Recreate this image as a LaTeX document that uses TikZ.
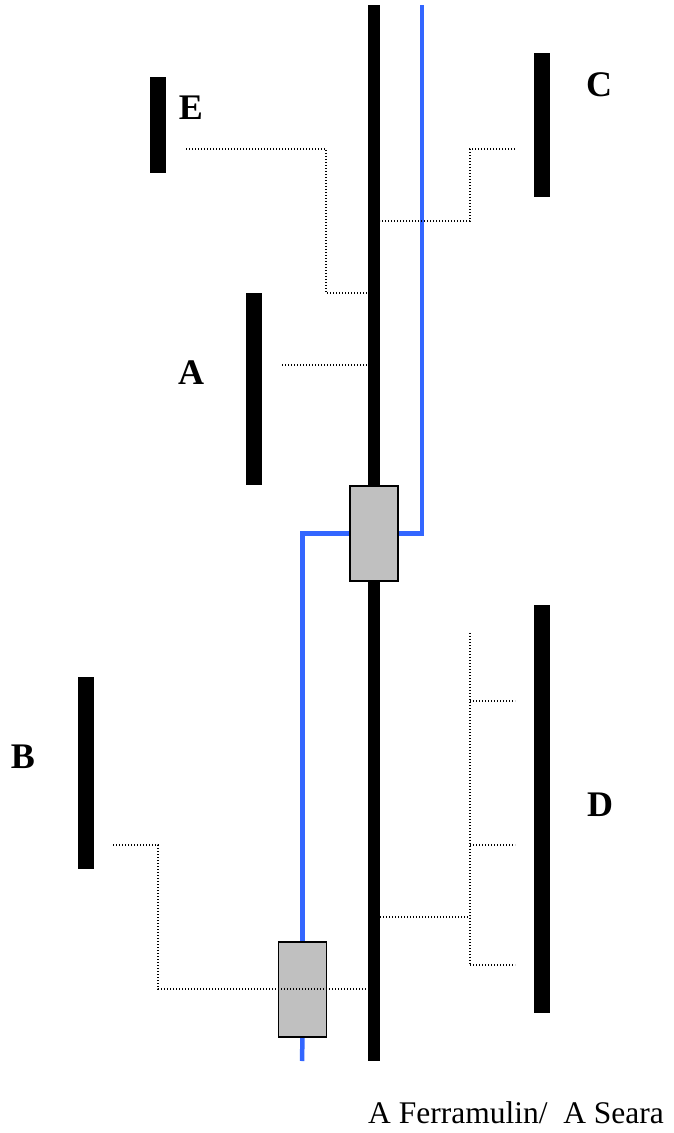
\documentclass[tikz,border=0pt]{standalone}
\usepackage{fontspec}
\setmainfont{Liberation Serif}
\usetikzlibrary{positioning}
\definecolor{chainblue}{HTML}{3366FF}
\definecolor{boxgray}{HTML}{C0C0C0}

\begin{document}
\begin{tikzpicture}[x=1pt,y=-1pt,
  bar/.style={fill=black,draw=none,minimum width=16pt,inner sep=0pt,outer sep=0pt},
  gbox/.style={fill=boxgray,draw=black,line width=1.8pt,minimum width=48pt,minimum height=95pt,inner sep=0pt,outer sep=0pt},
  link/.style={line width=1.4pt,dash pattern=on 1.4pt off 1.6pt},
  blueline/.style={chainblue,line width=4.5pt},
  lbl/.style={font=\fontsize{36}{40}\selectfont\bfseries,inner sep=0pt}]
  \useasboundingbox (0,0) rectangle (674,1133);

  % main strand and side bars
  \node[bar,minimum width=12pt,minimum height=1056pt] (main) at (374,533) {};
  \node[bar,minimum height=96pt] (barE) at (158,125) {};
  \node[bar,minimum height=144pt] (barC) at (542,125) {};
  \node[bar,minimum height=192pt] (barA) at (254,389) {};
  \node[bar,minimum height=192pt] (barB) at (86,773) {};
  \node[bar,minimum height=408pt] (barD) at (542,809) {};

  % blue chain
  \coordinate (bluetop) at (422,5);
  \coordinate (bluebot) at (302,1061);
  \node[gbox] (box1) at (374,533.5) {};
  \node[gbox] (box2) at (302.5,989.5) {};
  \draw[blueline] (bluetop) |- (box1.east);
  \draw[blueline] (box1.west) -| (box2.north);
  \draw[blueline] (box2.south) -- (bluebot);
  \node[gbox] at (box1) {};
  \node[gbox] at (box2) {};

  % dotted links
  \coordinate (eout) at (186,149);
  \coordinate (cout) at (515,149);
  \coordinate (aout) at (282,365);
  \coordinate (bout) at (113,845);
  \coordinate (dtop) at (470,633);
  \coordinate (dbot) at (470,965);
  \draw[link] (eout) -| (326,293) -- (main.west |- 0,293);
  \draw[link] (cout) -| (470,221) -- (main.east |- 0,221);
  \draw[link] (aout) -- (main.west |- aout);
  \draw[link] (bout) -| (158,989) -- (main.west |- 0,989);
  \draw[link] (dtop) -- (dbot);
  \draw[link] (470,701) -- (515,701);
  \draw[link] (470,845) -- (515,845);
  \draw[link] (dbot) -- (515,965);
  \draw[link] (main.east |- 0,917) -- (470,917);

  % labels
  \node[lbl] (labE) at (191,108) {E};
  \node[lbl] (labC) at (599,85) {C};
  \node[lbl] (labA) at (191,373) {A};
  \node[lbl] (labB) at (23,757) {B};
  \node[lbl] (labD) at (600,805) {D};
  \node[font=\fontsize{31.5}{36}\selectfont,inner sep=0pt,anchor=base] (caption) at (516,1123) {A Ferramulin/\ \ A Seara};
\end{tikzpicture}
\end{document}
